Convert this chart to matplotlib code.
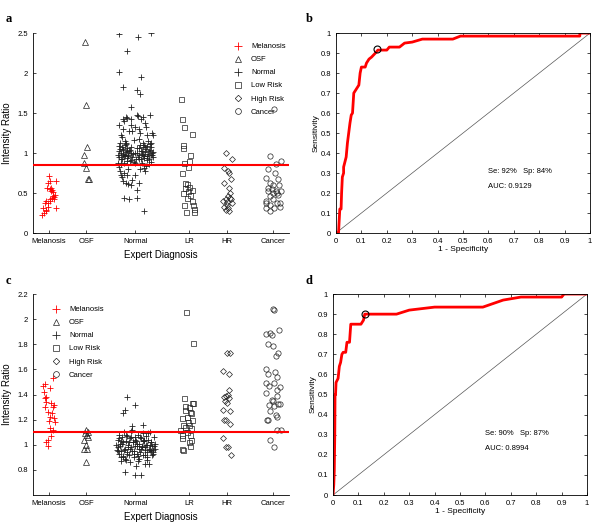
import matplotlib
matplotlib.use("Agg")
import matplotlib.pyplot as plt
import numpy as np
from matplotlib.ticker import FormatStrFormatter

# category names and x positions (axis units)
cats = ["Melanosis", "OSF", "Normal", "LR", "HR", "Cancer"]
cat_x = [1.0, 3.33, 6.4, 9.73, 12.1, 15.0]
leg_labels = ["Melanosis", "OSF", "Normal", "Low Risk", "High Risk", "Cancer"]

# ---------- panel a : intensity ratio ----------
mel_a_dx = [0.0, 0.08, 0.42, -0.12, 0.04, 0.17, 0.25, 0.35, 0.21, 0.29, -0.21, -0.27, -0.06, 0.04,
            -0.38, -0.17, 0.42, -0.42, -0.31, -0.21, -0.06, 0.08, 0.25, 0.15, -0.06, 0.3, 0.1]
mel_a_y = [0.71, 0.65, 0.65, 0.56, 0.55, 0.54, 0.51, 0.48, 0.44, 0.45, 0.40, 0.37, 0.375, 0.40,
           0.31, 0.29, 0.31, 0.23, 0.25, 0.27, 0.33, 0.43, 0.46, 0.56, 0.63, 0.42, 0.52]
osf_a_dx = [-0.06, -0.02, 0.04, -0.12, -0.12, 0.0, 0.08, 0.15]
osf_a_y = [2.39, 1.60, 1.07, 0.97, 0.875, 0.81, 0.675, 0.67]
nor_a_dx = [-1.04, 0.17, 0.98, -0.52, -1.0, 0.37, -0.79, 0.1, 0.31, -0.25,
            -0.9, -0.85, -0.8, -0.7, -0.6, -0.55, -0.3, -0.25, -0.2, 0.1, 0.15, 0.2, 0.3, 0.45,
            0.6, 0.7, 0.9, 1.05, 1.1, -1.0, -0.95, -0.4, 0.0, 0.35, 0.5, 0.8, 1.0, -0.65,
            -0.1, 0.25, -0.75, 0.65,
            -1.1, -1.05, -1.0, -0.95, -0.9, -0.85, -0.8, -0.75, -0.7, -0.65, -0.6, -0.55, -0.5,
            -0.45, -0.4, -0.35, -0.3, -0.25, -0.2, -0.15, -1.08, -1.0, -0.92, -0.84, -0.76,
            -0.68, -0.6, -0.52, -0.44, -0.36, -0.28, 0.1, 0.15, 0.2, 0.25, 0.3, 0.35, 0.4,
            0.45, 0.5, 0.55, 0.6, 0.65, 0.7, 0.75, 0.8, 0.85, 0.9, 0.95, 1.0, 1.05, 1.1,
            0.12, 0.22, 0.32, 0.42, 0.52, 0.62, 0.72, 0.82, 0.92, 1.02, 1.12, -0.1, 0.0,
            -0.05, 0.05, -0.9, -0.7, -0.5, 0.4, 0.7, 1.0, -0.62, -0.8, 0.55, 0.85,
            -1.0, -0.95, -0.9, -0.85, -0.7, -0.6, -0.5, -0.45, -0.3, -0.2, 0.0, 0.1, 0.1,
            -0.42, -0.73, 0.3, 0.6, 0.65, 0.55, 0.56, 0.25, -0.8, -0.46]
nor_a_y = [2.49, 2.45, 2.50, 2.27, 2.01, 1.95, 1.83, 1.79, 1.74, 1.57,
           1.22, 1.20, 1.42, 1.40, 1.45, 1.44, 1.35, 1.42, 1.28, 1.48, 1.46, 1.30, 1.25, 1.45,
           1.38, 1.22, 1.48, 1.25, 1.22, 1.35, 1.13, 1.27, 1.32, 1.42, 1.12, 1.15, 1.12, 1.15,
           1.16, 1.18, 1.30, 1.32,
           0.98, 1.02, 0.95, 1.05, 0.92, 1.08, 0.99, 1.04, 0.96, 1.10, 1.01, 0.94, 1.06,
           0.97, 1.03, 0.90, 1.00, 1.07, 0.95, 0.99, 0.88, 1.09, 1.00, 0.93, 1.05,
           0.98, 1.11, 1.02, 0.96, 1.04, 0.91, 1.00, 0.95, 1.06, 0.98, 1.10, 0.93, 1.03,
           0.97, 1.08, 0.94, 1.01, 1.05, 0.96, 1.09, 0.99, 0.92, 1.04, 0.97, 1.07, 1.00, 0.95,
           1.06, 0.93, 1.02, 0.99, 0.96, 1.08, 0.94, 1.03, 1.11, 0.98, 1.01, 0.89, 1.00,
           0.87, 0.93, 0.86, 0.88, 0.90, 0.87, 0.91, 0.89, 1.12, 0.97, 1.10, 0.86,
           0.82, 0.78, 0.72, 0.70, 0.75, 0.62, 0.73, 0.80, 0.60, 0.66, 0.72, 0.54, 0.44,
           0.425, 0.44, 0.80, 0.78, 0.84, 0.81, 0.27, 0.62, 0.65, 0.61]
lr_a_dx = [-0.46, -0.42, -0.31, 0.17, -0.38, -0.38, 0.10, 0.0, -0.31, -0.06, -0.42, -0.21, -0.1,
           0.0, -0.35, 0.21, 0.1, -0.1, 0.17, 0.25, -0.31, 0.31, 0.31, -0.15, -0.06, -0.21]
lr_a_y = [1.68, 1.43, 1.33, 1.24, 1.10, 1.06, 0.97, 0.90, 0.88, 0.83, 0.75, 0.62, 0.61,
          0.58, 0.50, 0.54, 0.47, 0.44, 0.40, 0.35, 0.35, 0.30, 0.26, 0.26, 0.52, 0.56]
hr_a_dx = [-0.06, 0.35, -0.19, 0.1, 0.17, 0.27, -0.15, 0.15, 0.21, 0.08, -0.06, 0.21, -0.21,
           0.31, 0.0, -0.15, 0.1, -0.04, 0.17, 0.27, 0.04]
hr_a_y = [1.00, 0.93, 0.81, 0.77, 0.75, 0.67, 0.62, 0.56, 0.50, 0.46, 0.425, 0.44, 0.40,
          0.375, 0.355, 0.33, 0.31, 0.29, 0.28, 0.42, 0.39]
can_a_dx = [0.04, -0.17, 0.46, 0.15, -0.31, 0.1, 0.27, -0.42, -0.21, 0.0, 0.375, -0.31, -0.1,
            0.17, 0.46, 0.31, -0.17, 0.0, -0.42, 0.21, 0.42, -0.17, -0.46, -0.42, 0.04, -0.17,
            0.42, -0.31, 0.25, -0.04]
can_a_y = [1.55, 0.96, 0.90, 0.86, 0.80, 0.75, 0.675, 0.69, 0.63, 0.60, 0.60, 0.56, 0.55,
           0.53, 0.52, 0.48, 0.46, 0.425, 0.40, 0.375, 0.37, 0.35, 0.37, 0.31, 0.31, 0.27,
           0.33, 0.52, 0.50, 0.50]
thr_a = 0.85

# ---------- panel c : intensity ratio ----------
mel_c_dx = [0.25, -0.375, -0.27, 0.04, -0.17, -0.27, 0.15, 0.31, 0.25, -0.27, -0.06, 0.21,
            0.04, 0.29, 0.35, 0.0, 0.08, 0.25, 0.15, -0.06, -0.17, -0.06, -0.21, -0.33]
mel_c_y = [1.53, 1.47, 1.48, 1.45, 1.38, 1.37, 1.33, 1.32, 1.30, 1.30, 1.26, 1.25,
           1.22, 1.21, 1.18, 1.19, 1.13, 1.12, 1.07, 1.04, 1.02, 0.99, 1.34, 1.42]
osf_c_dx = [0.0, 0.08, -0.06, 0.04, -0.13, 0.0, -0.17, 0.04, 0.0, 0.08]
osf_c_y = [1.12, 1.105, 1.09, 1.08, 1.04, 1.0, 0.97, 0.965, 0.86, 1.065]
nor_c_dx = [-0.52, 0.0, -0.63, -0.79, -0.21, 0.46, -0.63, -0.06, 0.35, 0.04, 0.6, 0.875, -0.9,
            -1.2, -1.15, -1.1, -1.05, -1.0, -0.95, -0.9, -0.85, -0.8, -0.75, -0.7, -0.65, -0.6,
            -0.55, -0.5, -0.45, -0.4, -0.35, -0.3, -0.25, -0.2, -0.15, -0.1, -0.05, 0.0, 0.05,
            0.1, 0.15, 0.2, 0.25, 0.3, 0.35, 0.4, 0.45, 0.5, 0.55, 0.6, 0.65, 0.7, 0.75, 0.8,
            0.85, 0.9, 0.95, 1.0, 1.05, 1.1, 1.15, 1.2, 1.25,
            -1.12, -1.02, -0.92, -0.82, -0.72, -0.62, -0.52, -0.42, -0.32, -0.22, -0.12, -0.02,
            0.08, 0.18, 0.28, 0.38, 0.48, 0.58, 0.68, 0.78, 0.88, 0.98, 1.08, 1.18,
            -1.08, -0.88, -0.68, -0.48, -0.28, -0.08, 0.12, 0.32, 0.52, 0.72, 0.92, 1.12,
            -0.98, -0.58, -0.18, 0.22, 0.62, 1.02, -0.35, 0.15, 0.7, -0.75]
nor_c_y = [1.38, 1.32, 1.28, 1.25, 1.15, 1.16, 0.78, 0.76, 0.76, 0.83, 0.85, 0.85, 0.87,
           1.00, 0.96, 1.04, 0.93, 1.08, 0.99, 0.95, 1.06, 1.02, 0.91, 1.10, 0.97, 1.03,
           0.94, 1.07, 1.00, 0.92, 1.05, 0.98, 1.11, 0.95, 1.02, 0.90, 1.06, 0.99, 1.03,
           0.93, 1.08, 0.97, 1.01, 0.94, 1.05, 0.99, 1.09, 0.92, 1.03, 0.96, 1.07, 1.00, 0.94,
           1.04, 0.97, 1.10, 0.95, 1.02, 0.99, 0.93, 1.06, 0.97, 1.01,
           0.98, 1.05, 0.90, 1.01, 0.96, 1.08, 0.93, 1.02, 0.97, 1.12, 0.95, 1.04,
           0.99, 0.91, 1.06, 0.98, 1.03, 0.92, 1.00, 1.09, 0.96, 1.02, 0.94, 0.99,
           0.95, 1.03, 0.89, 0.98, 1.06, 0.93, 1.01, 0.97, 1.04, 0.90, 1.00, 0.96,
           1.01, 0.88, 1.02, 0.89, 0.98, 0.92, 0.86, 0.87, 0.88, 0.90]
lr_c_dx = [-0.15, 0.27, -0.31, 0.27, 0.21, -0.21, 0.0, 0.06, 0.15, -0.42, 0.21, -0.1, -0.35,
           0.04, -0.21, 0.15, -0.52, -0.1, -0.42, 0.1, -0.42, 0.15, 0.0, 0.1, -0.35, -0.42,
           -0.21, -0.04]
lr_c_y = [2.06, 1.81, 1.37, 1.33, 1.33, 1.31, 1.30, 1.26, 1.25, 1.21, 1.20, 1.225, 1.16,
          1.155, 1.14, 1.13, 1.12, 1.105, 1.08, 1.075, 1.05, 1.04, 1.02, 0.99, 0.955, 0.965,
          1.28, 1.185]
hr_c_dx = [0.0, 0.21, -0.25, 0.125, 0.17, 0.06, -0.04, -0.15, 0.125, -0.08, 0.02, -0.25, 0.21,
           -0.04, -0.15, 0.21, -0.25, -0.04, 0.06, 0.27]
hr_c_y = [1.73, 1.73, 1.59, 1.56, 1.44, 1.40, 1.385, 1.38, 1.37, 1.345, 1.33, 1.28, 1.27,
          1.20, 1.20, 1.165, 1.05, 0.985, 0.98, 0.92]
can_c_dx = [-0.04, 0.04, 0.375, -0.46, -0.17, -0.1, -0.31, -0.04, 0.31, 0.17, -0.42, -0.31,
            0.1, 0.25, -0.46, 0.04, -0.25, 0.42, 0.21, -0.42, 0.21, -0.1, -0.25, 0.31, 0.42,
            0.04, -0.17, 0.17, -0.375, -0.31, 0.25, 0.21, 0.46, -0.17, 0.04, 0.0]
can_c_y = [2.08, 2.07, 1.91, 1.88, 1.89, 1.875, 1.80, 1.79, 1.73, 1.71, 1.605, 1.56,
           1.58, 1.54, 1.49, 1.49, 1.47, 1.46, 1.44, 1.41, 1.385, 1.36, 1.32, 1.325, 1.325,
           1.305, 1.265, 1.24, 1.20, 1.20, 1.22, 1.12, 1.115, 1.04, 0.98, 1.35]
thr_c = 1.10

# ---------- ROC curves ----------
fpr_b = [0, 0.01, 0.012, 0.015, 0.02, 0.022, 0.025, 0.03, 0.03, 0.04, 0.045, 0.05, 0.055, 0.06,
         0.065, 0.07, 0.08, 0.085, 0.09, 0.095, 0.1, 0.115, 0.12, 0.13, 0.14, 0.155, 0.165, 0.2,
         0.21, 0.25, 0.27, 0.3, 0.34, 0.46, 0.49, 0.96, 0.96, 1.0]
tpr_b = [0, 0.0, 0.05, 0.12, 0.12, 0.2, 0.28, 0.3, 0.33, 0.38, 0.45, 0.5, 0.55, 0.59,
         0.6, 0.7, 0.72, 0.73, 0.74, 0.8, 0.83, 0.83, 0.85, 0.87, 0.88, 0.9, 0.915, 0.915,
         0.93, 0.93, 0.95, 0.955, 0.97, 0.97, 0.985, 0.985, 1.0, 1.0]
op_b = (0.16, 0.92)
txt_b = ["Se: 92%   Sp: 84%", "AUC: 0.9129"]

fpr_d = [0, 0.003, 0.005, 0.007, 0.008, 0.01, 0.012, 0.02, 0.025, 0.03, 0.035, 0.04, 0.05,
         0.055, 0.065, 0.07, 0.11, 0.12, 0.125, 0.25, 0.3, 0.4, 0.59, 0.67, 0.74, 0.9, 0.91, 1.0]
tpr_d = [0, 0.05, 0.12, 0.3, 0.5, 0.5, 0.56, 0.58, 0.64, 0.66, 0.7, 0.71, 0.71,
         0.76, 0.76, 0.85, 0.85, 0.87, 0.9, 0.9, 0.92, 0.935, 0.935, 0.97, 0.985, 0.985, 1.0, 1.0]
op_d = (0.125, 0.90)
txt_d = ["Se: 90%   Sp: 87%", "AUC: 0.8994"]

plt.rcParams['font.family'] = ['Liberation Sans', 'DejaVu Sans']
fs_tick = 5.5
fs_lab = 7

fig = plt.figure(figsize=(6.0, 5.22), dpi=100)

styles = [dict(marker='+', color='red', ms=4.8, mew=0.6),
          dict(marker='^', mfc='none', mec='#222222', ms=3.8, mew=0.5),
          dict(marker='+', color='#222222', ms=4.8, mew=0.6),
          dict(marker='s', mfc='none', mec='#222222', ms=3.6, mew=0.5),
          dict(marker='D', mfc='none', mec='#222222', ms=3.0, mew=0.5),
          dict(marker='o', mfc='none', mec='#222222', ms=3.8, mew=0.5)]


def scatter_panel(ax, groups, thr, ylim, yticks, leg_loc, leg_anchor):
    for i, (dx, y) in enumerate(groups):
        xs = cat_x[i] + np.array(dx)
        ax.plot(xs, y, linestyle='none', label=leg_labels[i], **styles[i])
    ax.axhline(thr, color='red', lw=1.5, zorder=5)
    ax.set_xlim(0, 16)
    ax.set_ylim(*ylim)
    ax.set_xticks(cat_x)
    ax.set_xticklabels(cats)
    ax.set_yticks(yticks)
    ax.yaxis.set_major_formatter(FormatStrFormatter('%g'))
    ax.tick_params(direction='in', labelsize=fs_tick, length=2, width=0.5)
    for s in ['top', 'right']:
        ax.spines[s].set_visible(False)
    for s in ['left', 'bottom']:
        ax.spines[s].set_linewidth(0.6)
    ax.set_ylabel("Intensity Ratio", fontsize=fs_lab)
    ax.set_xlabel("Expert Diagnosis", fontsize=fs_lab)
    ax.legend(loc=leg_loc, bbox_to_anchor=leg_anchor, frameon=False, fontsize=fs_tick,
              labelspacing=0.75, handletextpad=1.2, handlelength=1.0, borderpad=0,
              markerscale=1.1)


def roc_panel(ax, fpr, tpr, op, txt):
    ax.plot([0, 1], [0, 1], color='#555555', lw=0.5)
    ax.plot(fpr, tpr, color='red', lw=2.0)
    ax.plot([op[0]], [op[1]], marker='o', mfc='none', mec='black', ms=5, mew=0.8)
    ax.set_xlim(0, 1)
    ax.set_ylim(0, 1)
    t = np.round(np.arange(0, 1.01, 0.1), 1)
    ax.set_xticks(t)
    ax.set_yticks(t)
    ax.xaxis.set_major_formatter(FormatStrFormatter('%g'))
    ax.yaxis.set_major_formatter(FormatStrFormatter('%g'))
    ax.tick_params(direction='in', labelsize=fs_tick, length=2, width=0.5, top=True, right=True)
    for s in ax.spines.values():
        s.set_linewidth(0.6)
    ax.set_xlabel("1 - Specificity", fontsize=6, labelpad=1)
    ax.set_ylabel("Sensitivity", fontsize=6, labelpad=1)
    ax.text(0.6, 0.3, txt[0], fontsize=fs_tick)
    ax.text(0.6, 0.225, txt[1], fontsize=fs_tick)


ax_a = fig.add_axes([0.055, 0.5536, 0.427, 0.383])
scatter_panel(ax_a, [(mel_a_dx, mel_a_y), (osf_a_dx, osf_a_y), (nor_a_dx, nor_a_y),
                     (lr_a_dx, lr_a_y), (hr_a_dx, hr_a_y), (can_a_dx, can_a_y)],
              thr_a, (0, 2.5), np.arange(0, 2.51, 0.5), 'upper left', (0.77, 0.97))

ax_b = fig.add_axes([0.56, 0.5536, 0.4233, 0.383])
roc_panel(ax_b, fpr_b, tpr_b, op_b, txt_b)

ax_c = fig.add_axes([0.055, 0.0517, 0.427, 0.385])
scatter_panel(ax_c, [(mel_c_dx, mel_c_y), (osf_c_dx, osf_c_y), (nor_c_dx, nor_c_y),
                     (lr_c_dx, lr_c_y), (hr_c_dx, hr_c_y), (can_c_dx, can_c_y)],
              thr_c, (0.6, 2.2), np.arange(0.8, 2.21, 0.2), 'upper left', (0.06, 0.96))

ax_d = fig.add_axes([0.555, 0.0517, 0.4233, 0.385])
roc_panel(ax_d, fpr_d, tpr_d, op_d, txt_d)

for lbl, x, y in [("a", 0.01, 0.975), ("b", 0.51, 0.975), ("c", 0.01, 0.473), ("d", 0.51, 0.473)]:
    fig.text(x, y, lbl, fontsize=9, fontweight='bold', family='Liberation Serif', va='top')

fig.savefig("out.png", dpi=100)
